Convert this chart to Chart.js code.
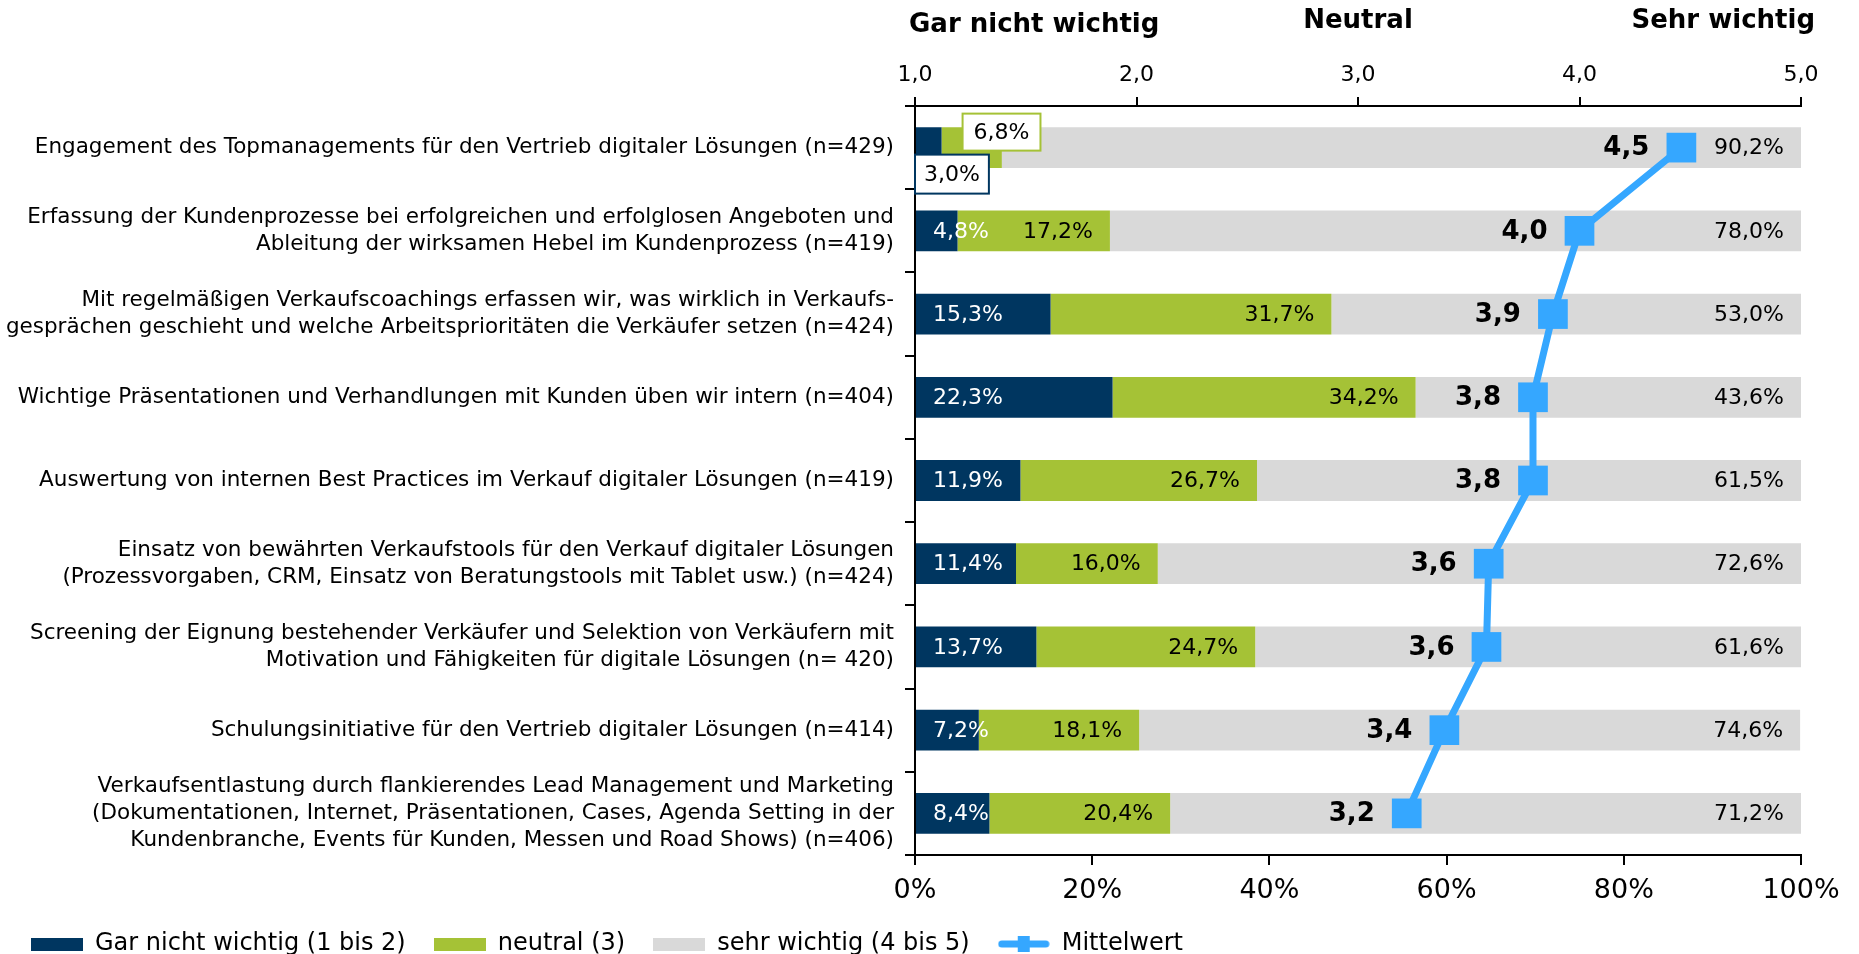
<!DOCTYPE html>
<html lang="de">
<head>
<meta charset="UTF-8">
<script src="https://cdn.jsdelivr.net/npm/chart.js"></script>
<title>Mittelwert Vertrieb digitaler Lösungen</title>
<style>
  html, body { margin: 0; padding: 0; background: #fff; }
  #wrap { width: 1859px; height: 954px; }
</style>
</head>
<body>
<div id="wrap"><canvas id="myChart"></canvas></div>
<script>
const kategorien = [
  ['Engagement des Topmanagements für den Vertrieb digitaler Lösungen (n=429)'],
  ['Erfassung der Kundenprozesse bei erfolgreichen und erfolglosen Angeboten und', 'Ableitung der wirksamen Hebel im Kundenprozess (n=419)'],
  ['Mit regelmäßigen Verkaufscoachings erfassen wir, was wirklich in Verkaufs-', 'gesprächen geschieht und welche Arbeitsprioritäten die Verkäufer setzen (n=424)'],
  ['Wichtige Präsentationen und Verhandlungen mit Kunden üben wir intern (n=404)'],
  ['Auswertung von internen Best Practices im Verkauf digitaler Lösungen (n=419)'],
  ['Einsatz von bewährten Verkaufstools für den Verkauf digitaler Lösungen', '(Prozessvorgaben, CRM, Einsatz von Beratungstools mit Tablet usw.) (n=424)'],
  ['Screening der Eignung bestehender Verkäufer und Selektion von Verkäufern mit', 'Motivation und Fähigkeiten für digitale Lösungen (n= 420)'],
  ['Schulungsinitiative für den Vertrieb digitaler Lösungen (n=414)'],
  ['Verkaufsentlastung durch flankierendes Lead Management und Marketing', '(Dokumentationen, Internet, Präsentationen, Cases, Agenda Setting in der', 'Kundenbranche, Events für Kunden, Messen und Road Shows) (n=406)']
];
const garNichtWichtig = [3.0, 4.8, 15.3, 22.3, 11.9, 11.4, 13.7, 7.2, 8.4];
const neutral = [6.8, 17.2, 31.7, 34.2, 26.7, 16.0, 24.7, 18.1, 20.4];
const sehrWichtig = [90.2, 78.0, 53.0, 43.6, 61.5, 72.6, 61.6, 74.6, 71.2];
const mittelwert = [4.46, 4.0, 3.88, 3.79, 3.79, 3.59, 3.58, 3.39, 3.22];
const skalaTitel = ['Gar nicht wichtig', 'Neutral', 'Sehr wichtig'];
const legendeTexte = ['Gar nicht wichtig (1 bis 2)', 'neutral (3)', 'sehr wichtig (4 bis 5)', 'Mittelwert'];

const DUNKEL = '#003660';
const GRUEN = '#A5C236';
const GRAU = '#D9D9D9';
const BLAU = '#35A7FF';
const FONT = '"DejaVu Sans", Verdana, sans-serif';

Chart.defaults.font.family = FONT;
Chart.defaults.color = '#000';

function fmt(v) { return v.toFixed(1).replace('.', ','); }
function pct(v) { return fmt(v) + '%'; }

// Legendensymbole als kleine Canvas
function kasten(farbe) {
  const c = document.createElement('canvas');
  c.width = 52; c.height = 13;
  const g = c.getContext('2d');
  g.fillStyle = farbe;
  g.fillRect(0, 0, 52, 13);
  return c;
}
function linienSymbol() {
  const c = document.createElement('canvas');
  c.width = 52; c.height = 18;
  const g = c.getContext('2d');
  g.strokeStyle = BLAU;
  g.lineWidth = 7;
  g.lineCap = 'round';
  g.beginPath(); g.moveTo(4, 9); g.lineTo(48, 9); g.stroke();
  g.fillStyle = BLAU;
  g.fillRect(20, 1, 12, 16);
  return c;
}
const symbole = [kasten(DUNKEL), kasten(GRUEN), kasten(GRAU), linienSymbol()];

function box(ctx, x, y, w, h, rand) {
  ctx.fillStyle = '#fff';
  ctx.fillRect(x, y, w, h);
  ctx.strokeStyle = rand;
  ctx.lineWidth = 2;
  ctx.strokeRect(x, y, w, h);
}

const beschriftung = {
  id: 'beschriftung',
  afterDatasetsDraw(chart) {
    const ctx = chart.ctx;
    const area = chart.chartArea;
    const inset = 18;
    ctx.save();
    ctx.font = '22px ' + FONT;
    ctx.textBaseline = 'middle';

    chart.getDatasetMeta(0).data.forEach((bar, i) => {
      const txt = pct(garNichtWichtig[i]);
      const tw = ctx.measureText(txt).width;
      const w = bar.x - bar.base;
      if (w < 2 * inset) {
        const bx = area.left, by = bar.y + 7, bw = tw + 18, bh = 39;
        box(ctx, bx, by, bw, bh, DUNKEL);
        ctx.fillStyle = '#000';
        ctx.textAlign = 'center';
        ctx.fillText(txt, bx + bw / 2, by + bh / 2 + 1);
      } else {
        ctx.fillStyle = '#fff';
        ctx.textAlign = 'left';
        ctx.fillText(txt, bar.base + 17, bar.y + 1);
      }
    });

    chart.getDatasetMeta(1).data.forEach((bar, i) => {
      const txt = pct(neutral[i]);
      const tw = ctx.measureText(txt).width;
      const w = bar.x - bar.base;
      if (w < tw + inset) {
        const bx = bar.base + 21, by = bar.y - 34, bw = tw + 22, bh = 37;
        box(ctx, bx, by, bw, bh, GRUEN);
        ctx.fillStyle = '#000';
        ctx.textAlign = 'center';
        ctx.fillText(txt, bx + bw / 2, by + bh / 2 + 1);
      } else {
        ctx.fillStyle = '#000';
        ctx.textAlign = 'right';
        ctx.fillText(txt, bar.x - 17, bar.y + 1);
      }
    });

    chart.getDatasetMeta(2).data.forEach((bar, i) => {
      ctx.fillStyle = '#000';
      ctx.textAlign = 'right';
      ctx.fillText(pct(sehrWichtig[i]), Math.min(bar.x, area.right) - 17, bar.y + 1);
    });

    ctx.font = 'bold 26px ' + FONT;
    chart.getDatasetMeta(3).data.forEach((pt, i) => {
      ctx.fillStyle = '#000';
      ctx.textAlign = 'right';
      ctx.fillText(fmt(mittelwert[i]), pt.x - 32, pt.y + 1);
    });
    ctx.restore();
  },
  afterDraw(chart) {
    const ctx = chart.ctx;
    const s = chart.scales.x2;
    ctx.save();
    ctx.font = 'bold 26px ' + FONT;
    ctx.fillStyle = '#000';
    ctx.textBaseline = 'middle';
    ctx.textAlign = 'left';
    ctx.fillText(skalaTitel[0], s.getPixelForValue(1) - 6, 25);
    ctx.textAlign = 'center';
    ctx.fillText(skalaTitel[1], s.getPixelForValue(3), 21);
    ctx.textAlign = 'right';
    ctx.fillText(skalaTitel[2], s.getPixelForValue(5) + 14, 21);
    ctx.restore();
  }
};

const config = {
  type: 'bar',
  data: {
    labels: kategorien,
    datasets: [
      { label: legendeTexte[0], data: garNichtWichtig, backgroundColor: DUNKEL, xAxisID: 'x', yAxisID: 'y', order: 1 },
      { label: legendeTexte[1], data: neutral, backgroundColor: GRUEN, xAxisID: 'x', yAxisID: 'y', order: 1 },
      { label: legendeTexte[2], data: sehrWichtig, backgroundColor: GRAU, xAxisID: 'x', yAxisID: 'y', order: 1 },
      {
        type: 'line',
        label: legendeTexte[3],
        data: mittelwert,
        indexAxis: 'y',
        xAxisID: 'x2',
        yAxisID: 'y',
        borderColor: BLAU,
        backgroundColor: BLAU,
        borderWidth: 7,
        pointStyle: 'rect',
        pointRadius: 21,
        pointBorderWidth: 0,
        pointBackgroundColor: BLAU,
        tension: 0,
        order: 0
      }
    ]
  },
  options: {
    indexAxis: 'y',
    responsive: true,
    maintainAspectRatio: false,
    animation: false,
    layout: { padding: { left: 3, right: 58, top: 0, bottom: 0 } },
    datasets: { bar: { barPercentage: 1, categoryPercentage: 0.49, borderWidth: 0 } },
    scales: {
      y: {
        stacked: true,
        afterFit(scale) { scale.width = 912; },
        grid: { offset: true, drawOnChartArea: false, color: '#000', tickLength: 10, lineWidth: 2 },
        border: { color: '#000', width: 2 },
        ticks: { font: { size: 21.5, lineHeight: 1.25 }, color: '#000', padding: 11, autoSkip: false }
      },
      x: {
        stacked: true,
        position: 'bottom',
        min: 0, max: 100,
        afterFit(scale) { scale.height = 49; },
        grid: { drawOnChartArea: false, color: '#000', tickLength: 10, lineWidth: 2 },
        border: { color: '#000', width: 2 },
        ticks: { stepSize: 20, font: { size: 27 }, color: '#000', padding: 10, callback: v => v + '%' }
      },
      x2: {
        type: 'linear',
        position: 'top',
        min: 1, max: 5,
        afterFit(scale) { scale.height = 106; },
        grid: { drawOnChartArea: false, color: '#000', tickLength: 9, lineWidth: 2 },
        border: { color: '#000', width: 2 },
        ticks: { stepSize: 1, font: { size: 22 }, color: '#000', padding: 9, callback: v => fmt(v) }
      }
    },
    plugins: {
      tooltip: { enabled: false },
      legend: {
        position: 'bottom',
        align: 'start',
        maxHeight: 50,
        labels: {
          usePointStyle: true,
          pointStyleWidth: 52,
          padding: 28,
          font: { size: 24 },
          color: '#000',
          generateLabels(chart) {
            return chart.data.datasets.map((ds, i) => ({
              text: ds.label,
              pointStyle: symbole[i],
              fillStyle: 'transparent',
              strokeStyle: 'transparent',
              lineWidth: 0,
              hidden: false,
              datasetIndex: i
            }));
          }
        }
      }
    }
  },
  plugins: [beschriftung]
};

new Chart(document.getElementById('myChart').getContext('2d'), config);
</script>
</body>
</html>
